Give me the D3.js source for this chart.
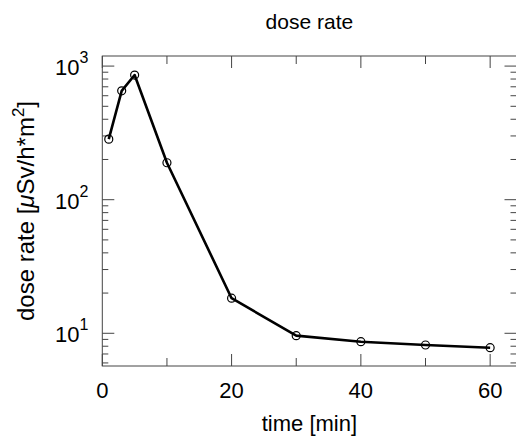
<!DOCTYPE html>
<meta charset="utf-8">
<style>
body { margin: 0; background: #fff; }
text { font-family: "Liberation Sans", Arial, sans-serif; fill: #000; }
.frame { stroke: #444; stroke-width: 1; fill: none; }
</style>
<svg width="516" height="439"></svg>
<script src="https://cdn.jsdelivr.net/npm/d3@7"></script>
<script>

var timeMin = [1, 3, 5, 10, 20, 30, 40, 50, 60];
var doseRate = [284, 653, 857, 189, 18.3, 9.6, 8.65, 8.17, 7.8];
var xTicks = [0, 10, 20, 30, 40, 50, 60];
var xLabels = [0, 20, 40, 60];
var yDecades = [10, 100, 1000];

var svg = d3.select("svg");
var pLeft = 102.3, pRight = 516.5, pTop = 56, pBottom = 366;

var x = d3.scaleLinear().domain([0, 64]).range([pLeft, pRight - 0.5]);
var y = d3.scaleLog().domain([5.69, 1190]).range([pBottom, pTop]);

// minor log ticks 2..9 in every decade
var yMinor = [];
[1, 10, 100, 1000].forEach(function(d) {
  for (var k = 2; k <= 9; k++) {
    var v = d * k;
    if (v > y.domain()[0] && v < y.domain()[1]) yMinor.push(v);
  }
});

var g = svg.append("g");

// x ticks, bottom and top
function xTickLen(d) { return xLabels.indexOf(d) >= 0 ? 12 : 8; }
g.selectAll(".xb").data(xTicks).enter().append("line")
    .attr("x1", function(d) { return x(d); }).attr("x2", function(d) { return x(d); })
    .attr("y1", pBottom).attr("y2", function(d) { return pBottom - xTickLen(d); })
    .attr("stroke", "#444");
g.selectAll(".xt").data(xTicks).enter().append("line")
    .attr("x1", function(d) { return x(d); }).attr("x2", function(d) { return x(d); })
    .attr("y1", pTop).attr("y2", function(d) { return pTop + xTickLen(d); })
    .attr("stroke", "#444");

// y ticks, left and right
var yTicks = yDecades.map(function(d) { return {v: d, len: 12}; })
  .concat(yMinor.map(function(d) { return {v: d, len: 6}; }));
g.selectAll(".yl").data(yTicks).enter().append("line")
    .attr("x1", pLeft).attr("x2", function(d) { return pLeft + d.len; })
    .attr("y1", function(d) { return y(d.v); }).attr("y2", function(d) { return y(d.v); })
    .attr("stroke", "#444");
g.selectAll(".yr").data(yTicks).enter().append("line")
    .attr("x1", pRight).attr("x2", function(d) { return pRight - d.len; })
    .attr("y1", function(d) { return y(d.v); }).attr("y2", function(d) { return y(d.v); })
    .attr("stroke", "#444");

g.append("rect").attr("class", "frame")
    .attr("x", pLeft).attr("y", pTop)
    .attr("width", pRight - pLeft).attr("height", pBottom - pTop);

// tick labels
g.selectAll(".xlab").data(xLabels).enter().append("text")
    .attr("x", function(d) { return x(d); })
    .attr("y", pBottom + 32)
    .attr("text-anchor", "middle")
    .attr("font-size", 22)
    .text(function(d) { return d; });

var ylab = g.selectAll(".ylab").data(yDecades).enter().append("text")
    .attr("x", pLeft - 14)
    .attr("y", function(d) { return y(d) + 9; })
    .attr("text-anchor", "end")
    .attr("font-size", 22);
ylab.append("tspan").text("10");
ylab.append("tspan").attr("dy", -12).attr("font-size", 16)
    .text(function(d) { return Math.round(Math.log10(d)); });

// line and markers
var line = d3.line()
    .x(function(d, i) { return x(timeMin[i]); })
    .y(function(d) { return y(d); });

g.append("path").datum(doseRate)
    .attr("d", line)
    .attr("fill", "none")
    .attr("stroke", "#000")
    .attr("stroke-width", 2.6)
    .attr("stroke-linejoin", "round");

g.selectAll("circle").data(doseRate).enter().append("circle")
    .attr("cx", function(d, i) { return x(timeMin[i]); })
    .attr("cy", function(d) { return y(d); })
    .attr("r", 4)
    .attr("fill", "none")
    .attr("stroke", "#000")
    .attr("stroke-width", 1.2);

// titles
svg.append("text")
    .attr("x", (pLeft + pRight) / 2).attr("y", 29)
    .attr("text-anchor", "middle").attr("font-size", 21)
    .text("dose rate");

svg.append("text")
    .attr("x", (pLeft + pRight) / 2).attr("y", 431)
    .attr("text-anchor", "middle").attr("font-size", 22)
    .text("time [min]");

var yt = svg.append("text")
    .attr("transform", "translate(34," + ((pTop + pBottom) / 2) + ") rotate(-90)")
    .attr("text-anchor", "middle").attr("font-size", 24);
yt.append("tspan").text("dose rate [");
yt.append("tspan").attr("font-style", "italic").text("μ");
yt.append("tspan").text("Sv/h*m");
yt.append("tspan").attr("dy", -10).attr("font-size", 17).text("2");
yt.append("tspan").attr("dy", 10).text("]");

</script>
